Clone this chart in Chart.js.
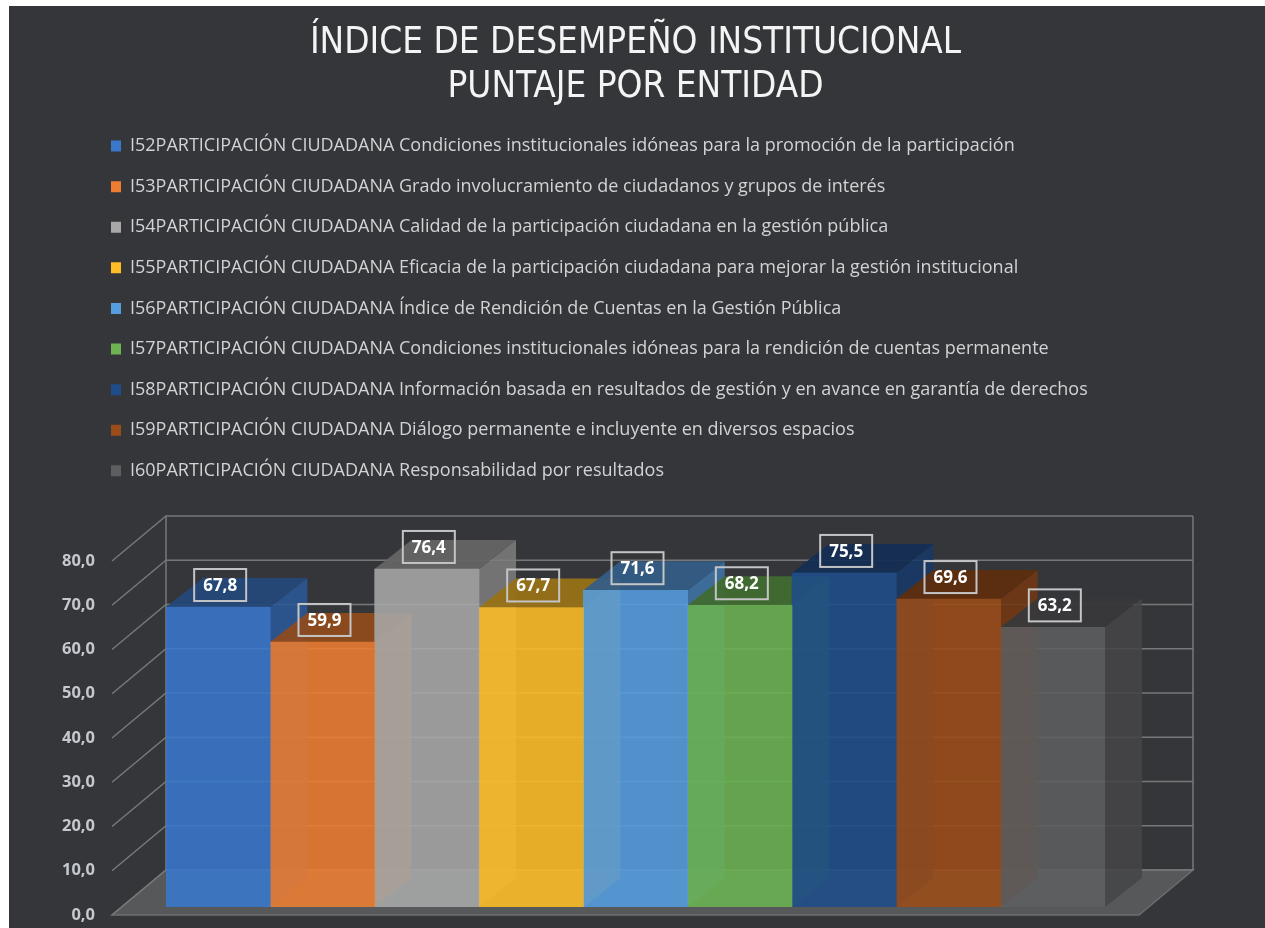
<!DOCTYPE html>
<html>
<head>
<meta charset="utf-8">
<script src="https://cdn.jsdelivr.net/npm/chart.js@4.4.1/dist/chart.umd.min.js"></script>
<style>
  html, body { margin: 0; padding: 0; background: #ffffff; }
  #bg { position: absolute; left: 9px; top: 6px; width: 1256px; height: 922px; background: #343639; }
  #c { position: absolute; left: 0; top: 0; }
</style>
</head>
<body>
<div id="bg"></div>
<canvas id="c" width="1265" height="928"></canvas>
<script>
// ---------------- DATA ----------------
const titleLines = ['ÍNDICE DE DESEMPEÑO INSTITUCIONAL', 'PUNTAJE POR ENTIDAD'];
const categories = [''];
const seriesLabels = [
  'I52PARTICIPACIÓN CIUDADANA Condiciones institucionales idóneas para la promoción de la participación',
  'I53PARTICIPACIÓN CIUDADANA Grado involucramiento de ciudadanos y grupos de interés',
  'I54PARTICIPACIÓN CIUDADANA Calidad de la participación ciudadana en la gestión pública',
  'I55PARTICIPACIÓN CIUDADANA Eficacia de la participación ciudadana para mejorar la gestión institucional',
  'I56PARTICIPACIÓN CIUDADANA Índice de Rendición de Cuentas en la Gestión Pública',
  'I57PARTICIPACIÓN CIUDADANA Condiciones institucionales idóneas para la rendición de cuentas permanente',
  'I58PARTICIPACIÓN CIUDADANA Información basada en resultados de gestión y en avance en garantía de derechos',
  'I59PARTICIPACIÓN CIUDADANA Diálogo permanente e incluyente en diversos espacios',
  'I60PARTICIPACIÓN CIUDADANA Responsabilidad por resultados'
];
const seriesValues = [67.8, 59.9, 76.4, 67.7, 71.6, 68.2, 75.5, 69.6, 63.2];
const seriesColors = ['#3a78cc', '#ee7d31', '#a8a8a8', '#ffbe26', '#559ddf', '#6cb352', '#1f4d8a', '#9c4c18', '#5d5e60'];
const yTickValues = [0, 10, 20, 30, 40, 50, 60, 70, 80];

// ---------------- HELPERS ----------------
const fmt = v => Number(v).toFixed(1).replace('.', ',');
function rgbOf(hex) {
  const n = parseInt(hex.slice(1), 16);
  return [(n >> 16) & 255, (n >> 8) & 255, n & 255];
}
function shade(hex, f, a) {
  const [r, g, b] = rgbOf(hex);
  return `rgba(${Math.round(r * f)},${Math.round(g * f)},${Math.round(b * f)},${a})`;
}

// 3D presentation offsets (pixels)
const BAR_DEPTH = { dx: 37, dy: -29 };
const FRONT = { dx: -10, dy: 8 };
const BACK = { dx: 44, dy: -37 };
const SIDE_GAP = 44;
const FACE_ALPHA = 0.88;
const LEGEND_SHIFT = 58.4;

const legendShift = {
  id: 'legendShift',
  afterLayout(chart) {
    if (chart.legend) {
      chart.legend.left += LEGEND_SHIFT;
      chart.legend.right += LEGEND_SHIFT;
    }
  }
};

const frame3d = {
  id: 'frame3d',
  beforeDatasetsDraw(chart) {
    const { ctx, chartArea: ca, scales: { y } } = chart;
    const L = ca.left - SIDE_GAP, R = ca.right + SIDE_GAP;
    const y0 = y.getPixelForValue(0);
    const yTop = y.getPixelForValue(y.max);
    ctx.save();
    // floor
    ctx.beginPath();
    ctx.moveTo(L + FRONT.dx, y0 + FRONT.dy);
    ctx.lineTo(R + FRONT.dx, y0 + FRONT.dy);
    ctx.lineTo(R + BACK.dx, y0 + BACK.dy);
    ctx.lineTo(L + BACK.dx, y0 + BACK.dy);
    ctx.closePath();
    ctx.fillStyle = '#57585a';
    ctx.fill();
    ctx.strokeStyle = '#6c6d70';
    ctx.lineWidth = 1.5;
    ctx.stroke();
    // side-wall diagonals + back-wall gridlines
    ctx.strokeStyle = '#76787a';
    ctx.lineWidth = 1.5;
    y.ticks.forEach(t => {
      const py = y.getPixelForValue(t.value);
      ctx.beginPath();
      ctx.moveTo(L + FRONT.dx, py + FRONT.dy);
      ctx.lineTo(L + BACK.dx, py + BACK.dy);
      ctx.lineTo(R + BACK.dx, py + BACK.dy);
      ctx.stroke();
    });
    // back wall vertical edges
    ctx.beginPath();
    ctx.moveTo(L + BACK.dx, y0 + BACK.dy);
    ctx.lineTo(L + BACK.dx, yTop + BACK.dy);
    ctx.moveTo(R + BACK.dx, y0 + BACK.dy);
    ctx.lineTo(R + BACK.dx, yTop + BACK.dy);
    ctx.stroke();

    // bar side + top faces, painted left to right
    chart.data.datasets.forEach((ds, i) => {
      const meta = chart.getDatasetMeta(i);
      meta.data.forEach(bar => {
        const p = bar.getProps(['x', 'y', 'base', 'width'], true);
        const l = p.x - p.width / 2, r = p.x + p.width / 2;
        const top = p.y, base = p.base;
        // right side face
        ctx.beginPath();
        ctx.moveTo(r, top);
        ctx.lineTo(r + BAR_DEPTH.dx, top + BAR_DEPTH.dy);
        ctx.lineTo(r + BAR_DEPTH.dx, base + BAR_DEPTH.dy);
        ctx.lineTo(r, base);
        ctx.closePath();
        ctx.fillStyle = shade(seriesColors[i], 0.74, FACE_ALPHA);
        ctx.fill();
        // top face
        ctx.beginPath();
        ctx.moveTo(l, top);
        ctx.lineTo(l + BAR_DEPTH.dx, top + BAR_DEPTH.dy);
        ctx.lineTo(r + BAR_DEPTH.dx, top + BAR_DEPTH.dy);
        ctx.lineTo(r, top);
        ctx.closePath();
        ctx.fillStyle = shade(seriesColors[i], 0.6, 0.94);
        ctx.fill();
      });
    });
    ctx.restore();
  },
  afterDatasetsDraw(chart) {
    const { ctx } = chart;
    ctx.save();
    chart.data.datasets.forEach((ds, i) => {
      const meta = chart.getDatasetMeta(i);
      meta.data.forEach((bar, j) => {
        const p = bar.getProps(['x', 'y'], true);
        const cx = p.x + 2, cy = p.y - 22;
        ctx.strokeStyle = '#c3c4c6';
        ctx.lineWidth = 2;
        ctx.strokeRect(cx - 26, cy - 16, 52, 32);
        ctx.fillStyle = '#ffffff';
        ctx.font = 'bold 17px "Open Sans"';
        ctx.textAlign = 'center';
        ctx.textBaseline = 'middle';
        ctx.fillText(fmt(ds.data[j]), cx, cy + 1);
      });
    });
    ctx.restore();
  }
};

function build() {
  const datasets = seriesLabels.map((lab, i) => ({
    label: lab,
    data: [seriesValues[i]],
    backgroundColor: shade(seriesColors[i], 1, FACE_ALPHA),
    borderWidth: 0,
    categoryPercentage: 1,
    barPercentage: 1
  }));

  new Chart(document.getElementById('c'), {
    type: 'bar',
    data: { labels: categories, datasets },
    plugins: [legendShift, frame3d],
    options: {
      responsive: false,
      animation: false,
      events: [],
      layout: { padding: { left: 30, right: 160, top: 0, bottom: 21 } },
      plugins: {
        tooltip: { enabled: false },
        title: {
          display: true,
          text: titleLines,
          fullSize: false,
          color: '#f4f4f4',
          font: { family: '"Liberation Sans Narrow", "DejaVu Sans Condensed", "Open Sans"', size: 36.6, weight: 'normal', lineHeight: 1.2 },
          padding: { top: 22, bottom: 4.6 }
        },
        subtitle: {
          display: true,
          text: '',
          weight: 500,
          fullSize: false,
          font: { size: 1, lineHeight: 1 },
          padding: { top: 62.2, bottom: 0 }
        },
        legend: {
          display: true,
          position: 'top',
          align: 'start',
          fullSize: true,
          labels: {
            color: '#d2d3d5',
            font: { family: '"Open Sans"', size: 18 },
            boxWidth: 10,
            boxHeight: 11,
            padding: 22.6,
            generateLabels: (chart) => chart.data.datasets.map((ds, i) => ({
              text: ds.label,
              fillStyle: seriesColors[i],
              strokeStyle: seriesColors[i],
              lineWidth: 0,
              hidden: false,
              datasetIndex: i,
              fontColor: '#d2d3d5'
            }))
          }
        }
      },
      scales: {
        x: { display: false, grid: { display: false } },
        y: {
          min: 0,
          max: 80,
          afterBuildTicks: s => { s.ticks = yTickValues.map(v => ({ value: v })); },
          afterFit: s => { s.width = 136; s.paddingTop = 10; s.paddingBottom = 10; },
          grid: { display: false, drawTicks: false },
          border: { display: false },
          ticks: {
            padding: 71,
            labelOffset: 8,
            color: '#c5c9cf',
            font: { family: '"Open Sans"', size: 16.5, weight: 'bold' },
            callback: v => fmt(v)
          }
        }
      }
    }
  });
}

Promise.all([
  document.fonts.load('16px "Open Sans"'),
  document.fonts.load('bold 16px "Open Sans"'),
  document.fonts.load('40px "Liberation Sans Narrow"')
]).then(build, build);
</script>
</body>
</html>
